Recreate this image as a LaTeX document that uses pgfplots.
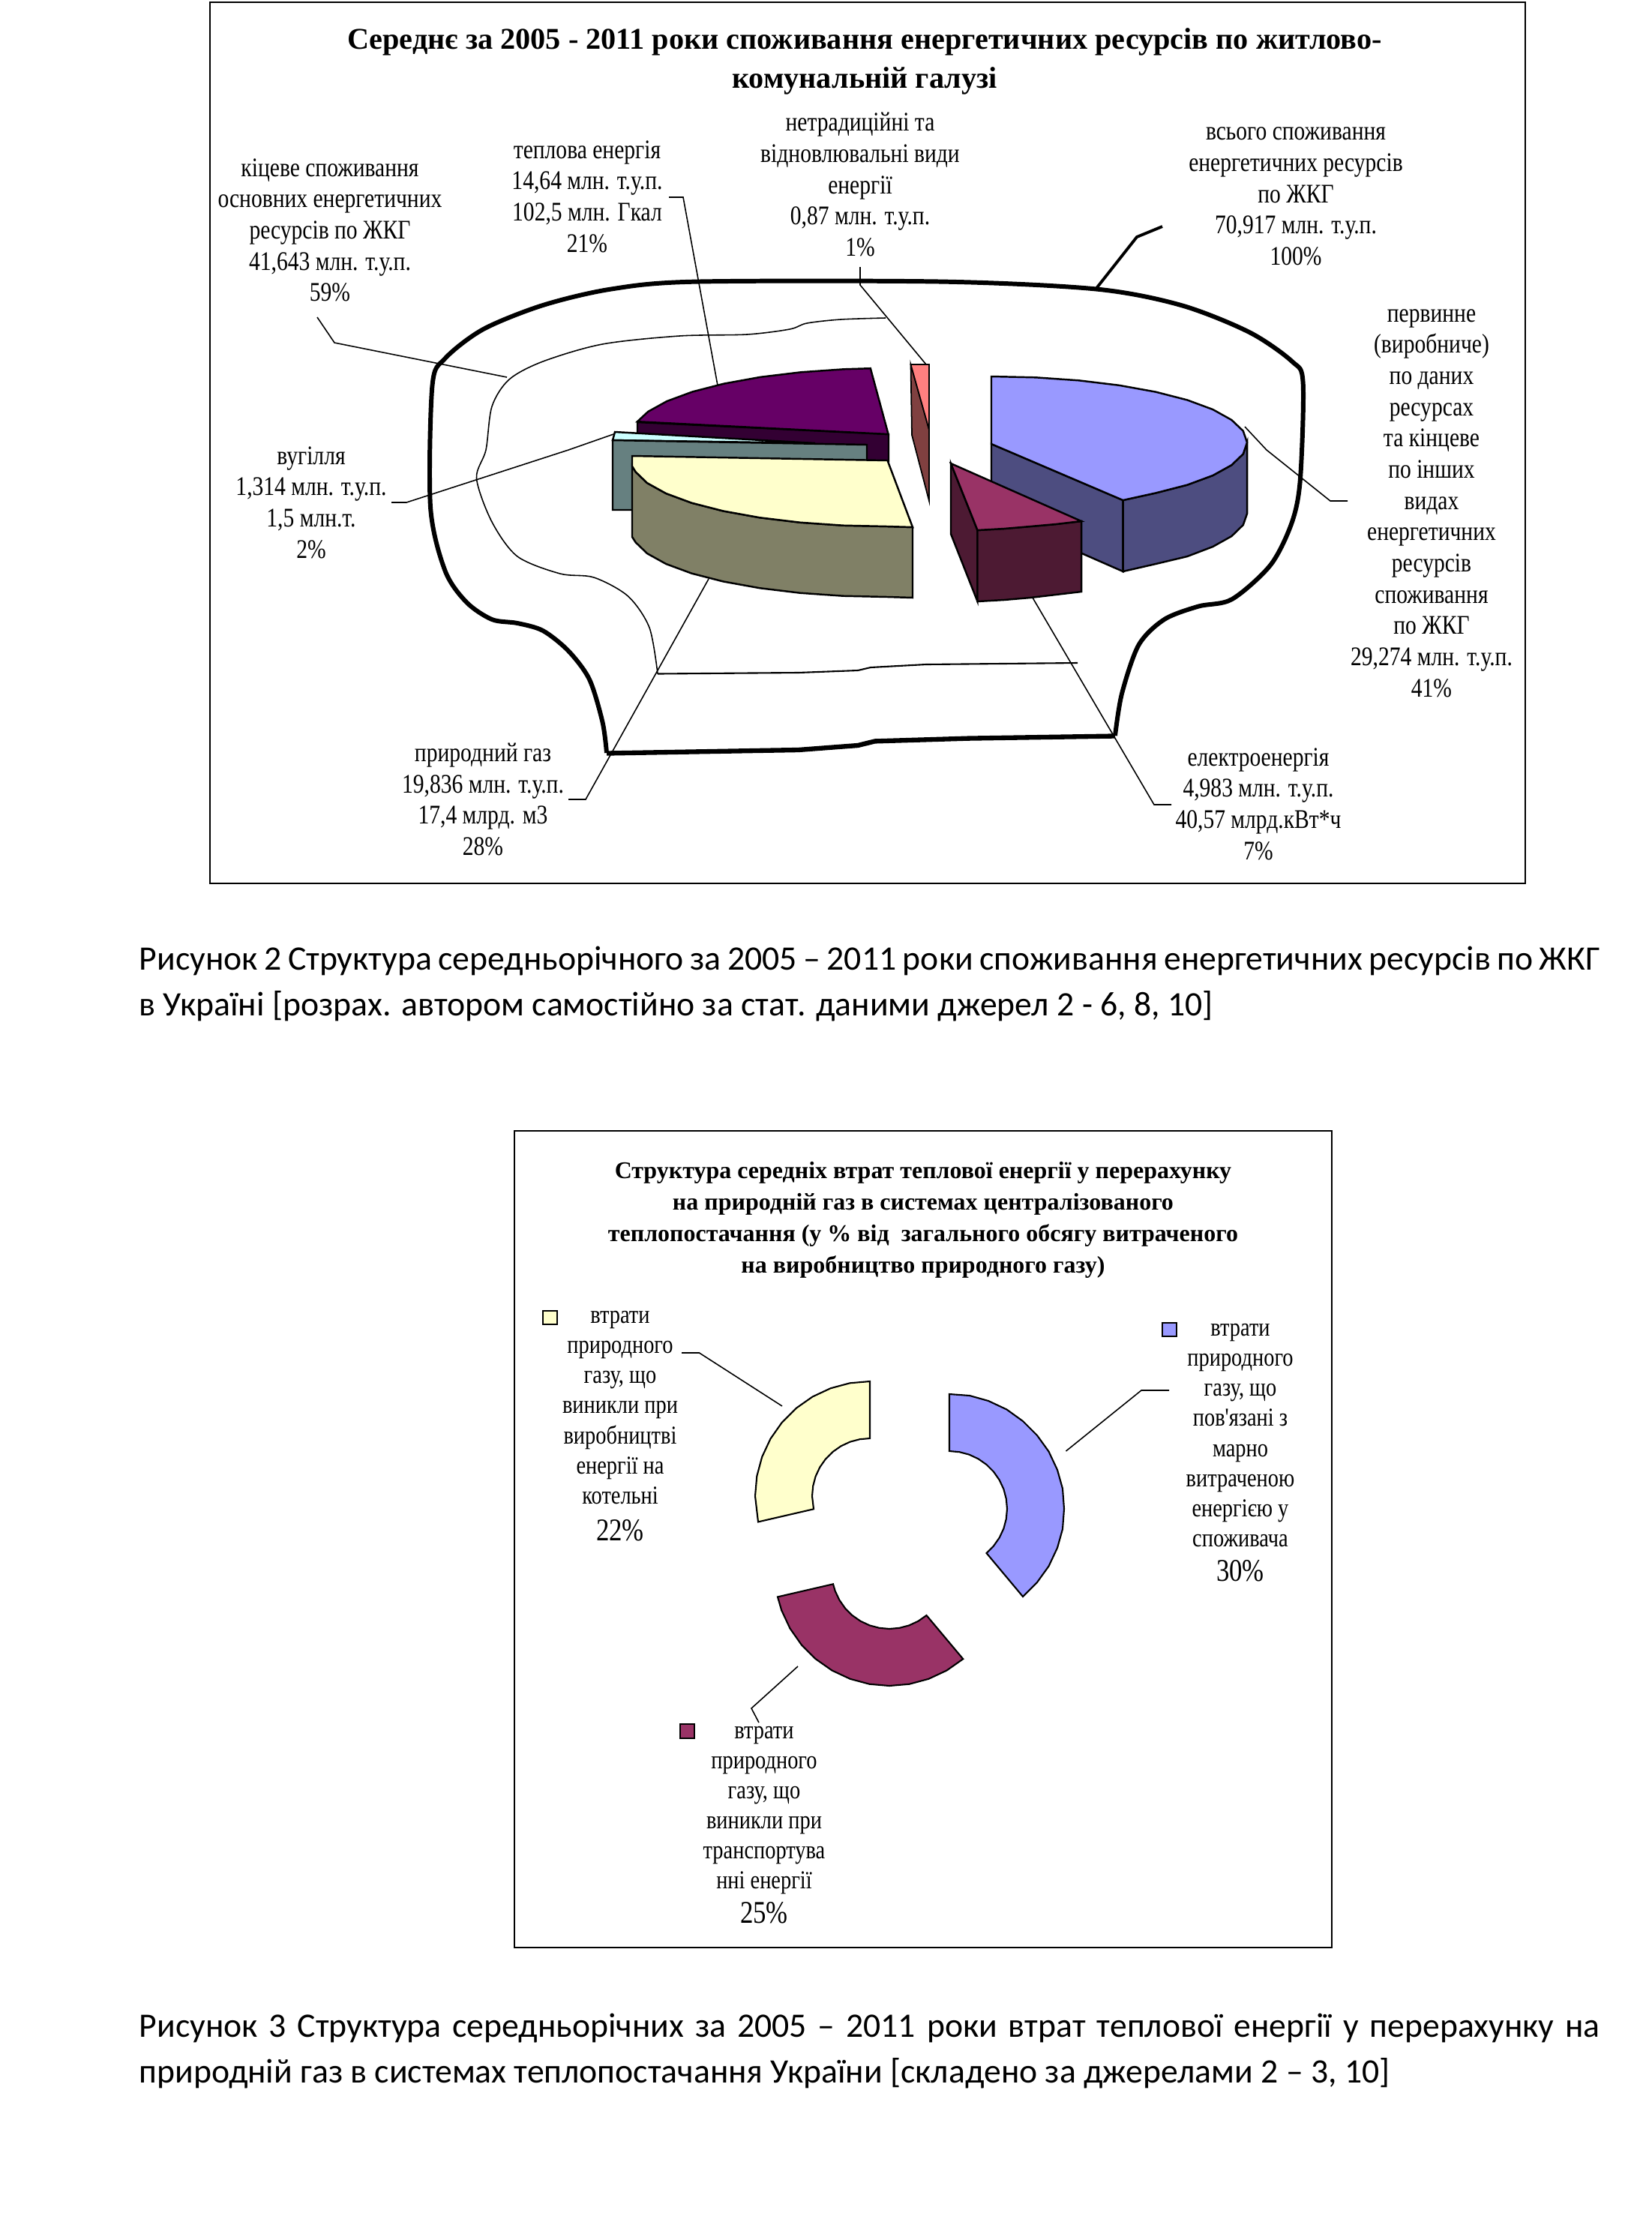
\documentclass[border=0pt]{standalone}
\usepackage{fontspec}
\setmainfont{Liberation Serif}
\newfontfamily\lab[FakeStretch=0.825]{Liberation Serif}
\newfontfamily\capf{Carlito}
\usepackage{pgfplots}
\pgfplotsset{compat=1.18}
\definecolor{cblue}{HTML}{9999FF}\definecolor{dblue}{HTML}{4D4D80}
\definecolor{cmar}{HTML}{993366}\definecolor{dmar}{HTML}{4D1A33}
\definecolor{cyel}{HTML}{FFFFCC}\definecolor{dyel}{HTML}{808066}
\definecolor{cpur}{HTML}{660066}\definecolor{dpur}{HTML}{330033}
\definecolor{cpin}{HTML}{FF8080}\definecolor{dpin}{HTML}{804040}
\definecolor{ccya}{HTML}{CCFFFF}\definecolor{dcya}{HTML}{668080}
\newcommand\lbl[3]{\node[align=center,inner sep=0pt,font=\fontsize{10.2}{11.85}\selectfont\lab] at (axis cs:#1,#2) {#3};}
\newcommand\lbs[3]{\node[align=center,inner sep=0pt,font=\fontsize{9.8}{11.4}\selectfont\lab] at (axis cs:#1,#2) {#3};}
\newcommand\pct[3]{\node[align=center,inner sep=0pt,font=\fontsize{12}{14}\selectfont\lab] at (axis cs:#1,#2) {#3};}
\begin{document}
\begin{tikzpicture}
\path[use as bounding box] (0,0) rectangle (22.02cm,29.87cm);
\begin{axis}[at={(0,0)},anchor=south west,scale only axis,width=22.02cm,height=29.87cm,
 xmin=0,xmax=2202,ymin=0,ymax=2987,y dir=reverse,hide axis,clip=false,no markers]
% frames
\addplot[black,line width=0.7pt] coordinates {(280,3)(2034,3)(2034,1178)(280,1178)} --cycle;
\addplot[black,line width=0.7pt] coordinates {(686,1508)(1776,1508)(1776,2597)(686,2597)} --cycle;
% outer outline
\addplot[black,line width=1.7pt,smooth,tension=0.5] coordinates {(809,1004)(803.5,963)(786,906)(758,868)(724,841)(690,831)(656,826)(622,803)(593.5,761)(574,676)(576.5,514)(593.5,478)(644.5,439)(724,407)(815,385.5)(928,375.6)(1257.5,375.6)(1462,385.5)(1575,407)(1666,443)(1723,482)(1737.6,510)(1734,638)(1723,696)(1694.6,753)(1643,799)(1598,808.6)(1552.6,826)(1518.5,860)(1496,925)(1487,981)};
\addplot[black,line width=1.8pt] coordinates {(809,1004.5)(1064.5,1000)(1144,994)(1166.7,988.4)(1291.5,984.6)(1487,981.5)};
% inner outline
\addplot[black,line width=0.45pt,smooth,tension=0.5] coordinates {(1181,424)(1121,426)(1076,431)(1053,439)(996,446)(906,448)(803,459)(724,482)(679,506)(656,542)(648,600)(635.5,638)(656,696)(690,742)(747,765)(792,770)(837.5,795)(866,837)(877,898.5)};
\addplot[black,line width=0.6pt] coordinates {(877,898.5)(1064.5,897)(1144,894)(1161,890)(1235,886)(1437,884)};
% leaders
\addplot[black,line width=0.45pt] coordinates {(892,263)(911,263)(957,514)};
\addplot[black,line width=0.45pt] coordinates {(1147,356)(1147,380)(1235,486)};
\addplot[black,line width=0.45pt] coordinates {(423,423)(446,457)(676,503)};
\addplot[black,line width=1.1pt] coordinates {(1550,302)(1516,316)(1460,387)};
\addplot[black,line width=0.45pt] coordinates {(1660,569)(1689,600)(1774,668)(1797,668)};
\addplot[black,line width=0.45pt] coordinates {(522,670)(542,670)(758,600)(818,579)};
\addplot[black,line width=0.45pt] coordinates {(758,1066)(781,1066)(945,772)};
\addplot[black,line width=0.45pt] coordinates {(1377,797)(1539,1073)(1562,1073)};
% purple
\addplot[fill=dpur,draw=black,line width=0.7pt] coordinates {(850,563)(1185,579)(1185,615)(850,600)} --cycle;
\addplot[fill=cpur,draw=black,line width=0.7pt] coordinates {(849.9,562.2)(864.2,548.9)(889.3,535)(923.4,522.4)(965.4,511.6)(1014,502.8)(1068,496.3)(1125.4,492.3)(1160.8,491.2)(1184.6,579)} --cycle;
% coal
\addplot[fill=ccya,draw=black,line width=0.7pt] coordinates {(820,576)(817,587)(1087,591)} --cycle;
\addplot[fill=dcya,draw=black,line width=0.7pt] coordinates {(817,587)(1156,593)(1156,680)(817,680)} --cycle;
% yellow
\addplot[fill=dyel,draw=black,line width=0.7pt] coordinates {(843,621.7)(847.7,629.3)(863.1,644.1)(888.2,658)(922.3,670.6)(964.3,681.4)(1013,690.2)(1066.9,696.7)(1124.3,700.7)(1183.5,702)(1217,703)(1217,797)(1183.5,796)(1124.3,794.7)(1066.9,790.7)(1013,784.2)(964.3,775.4)(922.3,764.6)(888.2,752)(863.1,738.1)(847.7,723.3)(843,716)} --cycle;
\addplot[fill=cyel,draw=black,line width=0.7pt] coordinates {(843,608)(1183.5,614)(1217,703)(1183.5,702)(1124.3,700.7)(1066.9,696.7)(1013,690.2)(964.3,681.4)(922.3,670.6)(888.2,658)(863.1,644.1)(847.7,629.3)(843,621.7)} --cycle;
% pink
\addplot[fill=dpin,draw=black,line width=0.5pt] coordinates {(1214.5,486)(1239,573)(1239,668)(1216,580)} --cycle;
\addplot[fill=cpin,draw=black,line width=0.5pt] coordinates {(1214.5,486)(1239,486)(1239,573)} --cycle;
% blue
\addplot[fill=dblue,draw=black,line width=0.7pt] coordinates {(1322,592)(1497.5,667)(1497.5,762)(1322,685)} --cycle;
\addplot[fill=dblue,draw=black,line width=0.7pt] coordinates {(1497.5,667)(1541.2,657.4)(1583.2,646.6)(1617.3,634)(1642.4,620.1)(1657.8,605.3)(1663,590)(1663,685)(1657.8,700)(1642.4,715)(1617.3,729)(1583.2,742)(1541.2,752)(1497.5,762)} --cycle;
\addplot[fill=cblue,draw=black,line width=0.7pt] coordinates {(1322,502)(1381,503.3)(1438.6,507.3)(1492.5,513.8)(1541.2,522.6)(1583.2,533.4)(1617.3,546)(1642.4,560)(1657.8,574.7)(1663,590)(1657.8,605.3)(1642.4,620.1)(1617.3,634)(1583.2,646.6)(1541.2,657.4)(1497.5,667)(1322,592)} --cycle;
% maroon
\addplot[fill=dmar,draw=black,line width=0.7pt] coordinates {(1268,618)(1303.5,707)(1303.5,802)(1268,712)} --cycle;
\addplot[fill=dmar,draw=black,line width=0.7pt] coordinates {(1303.5,707)(1339,705)(1374,702)(1408,699)(1442,695)(1442,789)(1408,793)(1374,797)(1339,800)(1303.5,802)} --cycle;
\addplot[fill=cmar,draw=black,line width=0.7pt] coordinates {(1268,618)(1442,695)(1408,699)(1374,702)(1339,705)(1303.5,707)} --cycle;
% doughnut
\addplot[fill=cblue,draw=black,line width=0.6pt] coordinates {(1266,1859)(1293,1861)(1318,1868)(1342.5,1879.5)(1364,1895)(1383,1914)(1398.5,1935.5)(1410,1960)(1417,1985)(1419,2012)(1417,2039)(1410,2064)(1398.5,2088.5)(1383,2110)(1364,2129)(1315.5,2071)(1325,2061.5)(1332.7,2050.5)(1338.4,2038.3)(1341.8,2025.4)(1343,2012)(1341.8,1998.6)(1338.4,1985.7)(1332.7,1973.5)(1325,1962.5)(1315.5,1953)(1304.5,1945.3)(1292.3,1939.6)(1279.4,1936.2)(1266,1935)} --cycle;
\addplot[fill=cyel,draw=black,line width=0.6pt] coordinates {(1160,1842)(1133.4,1844.3)(1107.7,1851.2)(1083.5,1862.5)(1061.7,1877.8)(1042.8,1896.7)(1027.5,1918.5)(1016.2,1942.7)(1009.3,1968.4)(1007,1995)(1011,2029.4)(1085,2012.3)(1083,1995)(1084.2,1981.6)(1087.6,1968.7)(1093.3,1956.5)(1101,1945.5)(1110.5,1936)(1121.5,1928.3)(1133.7,1922.6)(1146.6,1919.2)(1160,1918)} --cycle;
\addplot[fill=cmar,draw=black,line width=0.6pt] coordinates {(1284.3,2212.2)(1262.5,2227.5)(1238.3,2238.8)(1212.6,2245.7)(1186,2248)(1159.4,2245.7)(1133.7,2238.8)(1109.5,2227.5)(1087.7,2212.2)(1068.8,2193.3)(1053.5,2171.5)(1042.2,2147.3)(1037,2129.4)(1111,2112.3)(1113.6,2121.3)(1119.3,2133.5)(1127,2144.5)(1136.5,2154)(1147.5,2161.7)(1159.7,2167.4)(1172.6,2170.8)(1186,2172)(1199.4,2170.8)(1212.3,2167.4)(1224.5,2161.7)(1235.5,2154)} --cycle;
\addplot[black,line width=0.45pt] coordinates {(909,1804)(932.5,1804)(1043,1875)};
\addplot[black,line width=0.45pt] coordinates {(1559,1854)(1522,1854)(1421.5,1935)};
\addplot[black,line width=0.45pt] coordinates {(1064,2222)(1002,2278)(1012,2297)};
% legend keys
\addplot[fill=cyel,draw=black,line width=0.5pt] coordinates {(724,1748)(743,1748)(743,1766)(724,1766)} --cycle;
\addplot[fill=cblue,draw=black,line width=0.5pt] coordinates {(1550,1764)(1569,1764)(1569,1782)(1550,1782)} --cycle;
\addplot[fill=cmar,draw=black,line width=0.5pt] coordinates {(907,2299)(926,2299)(926,2318)(907,2318)} --cycle;
% titles
\node[align=center,inner sep=0pt,font=\fontsize{11.45}{14.7}\selectfont\bfseries] at (axis cs:1153,82) {Середнє за 2005 - 2011 роки споживання енергетичних ресурсів по житлово-\\комунальній галузі};
\node[align=center,inner sep=0pt,font=\fontsize{9.1}{11.9}\selectfont\bfseries] at (axis cs:1231,1627) {Структура середніх втрат теплової енергії у перерахунку\\на природній газ в системах централізованого\\теплопостачання (у \% від\ \ загального обсягу витраченого\\на виробництво природного газу)};
% labels
\lbl{440}{307}{кіцеве споживання\\основних енергетичних\\ресурсів по ЖКГ\\41,643 млн. т.у.п.\\59\%}
\lbl{783}{262}{теплова енергія\\14,64 млн. т.у.п.\\102,5 млн. Гкал\\21\%}
\lbl{1147}{246}{нетрадиційні та\\відновлювальні види\\енергії\\0,87 млн. т.у.п.\\1\%}
\lbl{1728}{262}{всього споживання\\енергетичних ресурсів\\по ЖКГ\\70,917 млн. т.у.п.\\100\%}
\lbl{1909}{671}{первинне\\(виробниче)\\по даних\\ресурсах\\та кінцеве\\по інших\\видах\\енергетичних\\ресурсів\\споживання\\по ЖКГ\\29,274 млн. т.у.п.\\41\%}
\lbl{415}{670}{вугілля\\1,314 млн. т.у.п.\\1,5 млн.т.\\2\%}
\lbl{644}{1066}{природний газ\\19,836 млн. т.у.п.\\17,4 млрд. м3\\28\%}
\lbl{1678}{1072}{електроенергія\\4,983 млн. т.у.п.\\40,57 млрд.кВт*ч\\7\%}
\lbs{827}{1877}{втрати\\природного\\газу, що\\виникли при\\виробництві\\енергії на\\котельні}
\pct{827}{2041}{22\%}
\lbs{1654}{1914}{втрати\\природного\\газу, що\\пов'язані з\\марно\\витраченою\\енергією у\\споживача}
\pct{1654}{2095}{30\%}
\lbs{1019}{2414}{втрати\\природного\\газу, що\\виникли при\\транспортува\\нні енергії}
\pct{1019}{2551}{25\%}
% captions
\node[anchor=base west,inner sep=0pt,font=\fontsize{13}{17}\selectfont\capf] at (axis cs:185,1293) {\hbox to 19.48cm{Рисунок 2 Структура середньорічного за 2005 – 2011 роки споживання енергетичних ресурсів по ЖКГ}};
\node[anchor=base west,inner sep=0pt,font=\fontsize{13}{17}\selectfont\capf] at (axis cs:185,1354) {в Україні [розрах. автором самостійно за стат. даними джерел 2 - 6, 8, 10]};
\node[anchor=base west,inner sep=0pt,font=\fontsize{13}{17}\selectfont\capf] at (axis cs:185,2716) {\hbox to 19.48cm{Рисунок 3 Структура середньорічних за 2005 – 2011 роки втрат теплової енергії у перерахунку на}};
\node[anchor=base west,inner sep=0pt,font=\fontsize{13}{17}\selectfont\capf] at (axis cs:185,2777) {природній газ в системах теплопостачання України [складено за джерелами 2 – 3, 10]};
\end{axis}
\end{tikzpicture}
\end{document}
